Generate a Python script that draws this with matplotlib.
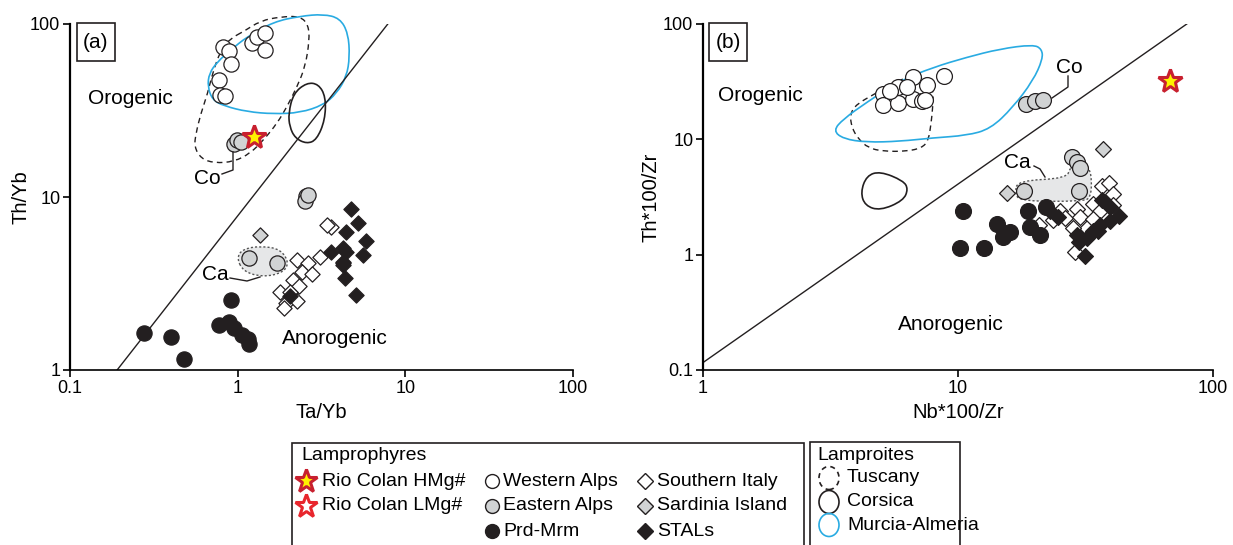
import numpy as np
import matplotlib.pyplot as plt
from matplotlib.path import Path
from matplotlib.patches import PathPatch, Rectangle, Ellipse
from matplotlib.lines import Line2D

plt.rcParams['font.family'] = ['Liberation Sans', 'DejaVu Sans']

W, H = 1233, 545

# ---------------- panel (a): Th/Yb vs Ta/Yb ----------------
a_west_x = [0.823, 0.888, 0.918, 0.772, 0.786, 0.838, 1.222, 1.308, 1.465, 1.465]
a_west_y = [73.9, 70.1, 58.7, 47.5, 38.9, 38.5, 78.0, 84.5, 88.4, 70.8]
a_east_x = [0.951, 0.996, 1.042, 2.56, 2.53, 2.64, 1.166, 1.717]
a_east_y = [20.3, 21.4, 20.9, 10.1, 9.52, 10.3, 4.42, 4.14]
a_prd_x = [0.277, 0.401, 0.477, 0.918, 0.775, 0.888, 0.951, 1.066, 1.151, 1.166]
a_prd_y = [1.63, 1.56, 1.16, 2.54, 1.82, 1.90, 1.74, 1.59, 1.52, 1.41]
a_sital_x = [3.58, 3.40, 2.26, 2.64, 3.10, 2.41, 2.79, 2.15, 2.31, 1.80, 2.06, 1.94, 2.26, 1.90, 4.22]
a_sital_y = [6.73, 6.89, 4.32, 4.14, 4.52, 3.70, 3.57, 3.31, 3.06, 2.84, 2.84, 2.43, 2.52, 2.29, 4.14]
a_sard_x = [1.35]
a_sard_y = [6.03]
a_stal_x = [4.77, 5.22, 4.42, 5.85, 3.58, 4.22, 4.42, 5.59, 4.22, 4.26, 4.36, 5.06, 2.06]
a_stal_y = [8.49, 7.10, 6.30, 5.59, 4.83, 5.05, 4.83, 4.62, 4.23, 4.05, 3.39, 2.71, 2.68]
a_star_x, a_star_y = [1.26], [22.3]
a_line_x, a_line_y = [0.191, 7.86], [1, 100]

a_tus_x = [1.08, 1.37, 1.80, 2.36, 2.64, 2.68, 2.53, 2.26, 1.97, 1.72, 1.43, 1.19, 0.951,
           0.724, 0.604, 0.551, 0.564, 0.604, 0.662, 0.708, 0.793, 0.909]
a_tus_y = [90.2, 104.5, 110, 111, 98.7, 80.8, 56.7, 43.4, 33.3, 26.7, 21.4, 17.9, 16.0,
           15.7, 16.7, 19.5, 23.4, 30.5, 39.7, 51.9, 70.8, 82.7]
a_mur_x = [1.14, 1.64, 2.36, 3.24, 4.07, 4.56, 4.66, 4.46, 3.89, 3.24, 2.36, 1.64, 1.14,
           0.830, 0.708, 0.662, 0.676, 0.758, 0.909]
a_mur_y = [84.5, 103, 111, 114, 108, 88.4, 64.7, 49.6, 39.7, 34.0, 30.7, 30.2, 31.1,
           33.6, 36.4, 43.4, 51.9, 60.5, 70.8]
a_cor_x = [2.01, 2.15, 2.58, 3.03, 3.35, 3.32, 2.96, 2.58, 2.20, 2.04]
a_cor_y = [30.5, 39.7, 45.8, 45.0, 38.0, 27.9, 21.4, 20.3, 21.9, 25.5]
a_ca_x = [0.986, 1.07, 1.37, 1.80, 2.03, 1.85, 1.42, 1.085]
a_ca_y = [4.44, 5.00, 5.21, 5.00, 4.15, 3.64, 3.45, 3.69]

# ---------------- panel (b): Th*100/Zr vs Nb*100/Zr ----------------
b_west_x = [5.07, 5.07, 5.83, 5.83, 6.68, 6.68, 7.21, 7.54, 8.81, 5.41, 6.29, 7.42]
b_west_y = [24.8, 20.0, 28.3, 20.5, 34.5, 22.4, 21.7, 29.8, 35.7, 26.5, 28.3, 22.0]
b_east_x = [18.5, 20.0, 21.6, 27.9, 29.2, 30.1, 18.2, 29.9]
b_east_y = [20.3, 21.4, 22.1, 6.98, 6.32, 5.65, 3.59, 3.59]
b_prd_x = [10.5, 10.2, 12.6, 14.2, 16.0, 15.0, 18.9, 22.1, 19.2, 21.0]
b_prd_y = [2.37, 1.14, 1.14, 1.85, 1.56, 1.43, 2.37, 2.61, 1.73, 1.49]
b_sital_x = [36.6, 39.2, 40.6, 33.9, 29.2, 25.1, 26.3, 30.1, 23.6, 20.8, 36.0, 32.0, 28.3, 28.8, 33.9, 40.6]
b_sital_y = [3.97, 4.15, 3.36, 2.75, 2.49, 2.41, 2.08, 2.14, 2.00, 1.82, 2.41, 1.70, 1.70, 1.05, 2.04, 2.72]
b_sard_x = [37.1, 15.5]
b_sard_y = [8.26, 3.40]
b_stal_x = [36.6, 39.5, 42.9, 39.5, 36.0, 33.9, 32.0, 29.9, 31.5, 24.7, 22.9, 29.2, 35.5]
b_stal_y = [3.00, 2.57, 2.18, 1.97, 1.82, 1.61, 1.40, 1.30, 0.967, 2.14, 2.37, 1.49, 1.59]
b_star_x, b_star_y = [67.8], [32.3]
b_line_x, b_line_y = [1, 78.9], [0.116, 100]

b_tus_x = [4.73, 4.01, 3.77, 3.83, 4.06, 4.45, 5.09, 6.29, 7.21, 7.65, 7.84, 7.96, 8.00, 7.77, 6.68, 5.58]
b_tus_y = [24.8, 20.3, 16.6, 12.7, 10.1, 8.42, 7.87, 7.87, 8.42, 9.74, 13.6, 18.9, 26.4, 32.3, 35.7, 31.2]
b_mur_x = [3.24, 3.55, 4.38, 5.92, 8.00, 10.8, 14.6, 19.7, 21.3, 21.5, 19.7, 16.4, 13.4, 10.8,
           8.00, 5.92, 4.38, 3.55]
b_mur_y = [11.9, 15.0, 20.9, 32.3, 42.1, 51.4, 60.8, 66.3, 60.8, 49.8, 32.3, 18.9, 12.3, 10.8,
           10.3, 9.61, 9.42, 10.1]
b_cor_x = [4.38, 4.95, 6.10, 6.38, 6.10, 4.95, 4.32, 4.15]
b_cor_y = [4.84, 5.28, 4.38, 3.71, 2.94, 2.41, 2.66, 3.47]
b_ca_x = [17.2, 26.7, 27.5, 30.1, 32.7, 33.5, 33.1, 31.0, 17.5, 16.7]
b_ca_y = [4.38, 4.59, 5.72, 6.32, 5.72, 4.38, 3.14, 2.90, 2.90, 3.47]

GREY = '#d1d3d4'
BLACK = '#231f20'
BLUE = '#29abe2'
RED = '#c8202f'
YELLOW = '#fff200'


def fx(px):
    return px / W


def fy(py):
    return 1 - py / H


def closed_curve(xs, ys):
    # smooth closed outline: quadratic beziers through the midpoints (log space)
    lx, ly = np.log10(xs), np.log10(ys)
    mx = (lx + np.roll(lx, -1)) / 2
    my = (ly + np.roll(ly, -1)) / 2
    verts = [(mx[-1], my[-1])]
    codes = [Path.MOVETO]
    for i in range(len(lx)):
        verts += [(lx[i], ly[i]), (mx[i], my[i])]
        codes += [Path.CURVE3, Path.CURVE3]
    return Path(10 ** np.array(verts), codes)


def field(ax, xs, ys, **kw):
    ax.add_patch(PathPatch(closed_curve(xs, ys), clip_on=False, **kw))


def points(ax, d, s_c, s_d):
    kw = dict(edgecolors=BLACK, linewidths=0.9, zorder=3, clip_on=False)
    ax.scatter(d['sital'][0], d['sital'][1], s=s_d, marker='D', c='white', **kw)
    ax.scatter(d['stal'][0], d['stal'][1], s=s_d, marker='D', c=BLACK, **kw)
    ax.scatter(d['sard'][0], d['sard'][1], s=s_d, marker='D', c=GREY, **kw)
    ax.scatter(d['prd'][0], d['prd'][1], s=s_c, marker='o', c=BLACK, **kw)
    ax.scatter(d['west'][0], d['west'][1], s=s_c, marker='o', c='white', **kw)
    ax.scatter(d['east'][0], d['east'][1], s=s_c, marker='o', c=GREY, **kw)
    ax.plot(d['star'][0], d['star'][1], ls='none', marker='*', ms=18, mfc=YELLOW,
            mec=RED, mew=2.2, zorder=5, clip_on=False)


def style_axes(ax, xt, yt, xlabel, ylabel, xlab_x, ylab_x):
    ax.set_xscale('log')
    ax.set_yscale('log')
    ax.set_xlim(xt[0], xt[-1])
    ax.set_ylim(yt[0], yt[-1])
    ax.set_xticks(xt, labels=[f'{v:g}' for v in xt])
    ax.set_yticks(yt, labels=[f'{v:g}' for v in yt])
    ax.minorticks_off()
    ax.spines[['top', 'right']].set_visible(False)
    ax.spines['left'].set_linewidth(1.6)
    ax.spines['bottom'].set_linewidth(1.2)
    ax.tick_params(direction='out', length=5, width=1.2, labelsize=13, pad=2)
    ax.set_xlabel(xlabel, fontsize=14.5)
    ax.set_ylabel(ylabel, fontsize=14.5)
    ax.xaxis.set_label_coords(xlab_x, -0.095)
    ax.yaxis.set_label_coords(ylab_x, 0.5)


def ftext(px, py, s, size=15, **kw):
    fig.text(fx(px), fy(py), s, fontsize=size, ha=kw.pop('ha', 'center'),
             va=kw.pop('va', 'center'), **kw)


def fline(pts, **kw):
    xs = [fx(p[0]) for p in pts]
    ys = [fy(p[1]) for p in pts]
    fig.add_artist(Line2D(xs, ys, transform=fig.transFigure, color=BLACK,
                          lw=kw.pop('lw', 1.0), **kw))


def fbox(x0, y0, x1, y1, lw=1.2):
    fig.add_artist(Rectangle((fx(x0), fy(y1)), fx(x1) - fx(x0), fy(y0) - fy(y1),
                             transform=fig.transFigure, fill=False, ec=BLACK, lw=lw))


fig = plt.figure(figsize=(W / 100, H / 100), dpi=100)
ax_a = fig.add_axes([fx(70), fy(370), fx(573) - fx(70), fy(24) - fy(370)])
ax_b = fig.add_axes([fx(703), fy(370), fx(1213) - fx(703), fy(24) - fy(370)])

# panel (a)
ax_a.plot(a_line_x, a_line_y, color=BLACK, lw=1.0, zorder=2)
field(ax_a, a_ca_x, a_ca_y, fc='#e6e7e8', ec='#555555', lw=1.0, ls=(0, (1.5, 1.5)), zorder=1)
field(ax_a, a_tus_x, a_tus_y, fill=False, ec=BLACK, lw=1.0, ls=(0, (4, 3)), zorder=1)
field(ax_a, a_mur_x, a_mur_y, fill=False, ec=BLUE, lw=1.2, zorder=1)
field(ax_a, a_cor_x, a_cor_y, fill=False, ec=BLACK, lw=1.2, zorder=1)
points(ax_a, {'west': (a_west_x, a_west_y), 'east': (a_east_x, a_east_y),
              'prd': (a_prd_x, a_prd_y), 'sital': (a_sital_x, a_sital_y),
              'sard': (a_sard_x, a_sard_y), 'stal': (a_stal_x, a_stal_y),
              'star': (a_star_x, a_star_y)}, s_c=120, s_d=60)
style_axes(ax_a, [0.1, 1, 10, 100], [1, 10, 100], 'Ta/Yb', 'Th/Yb', 0.5, -0.079)

# panel (b)
ax_b.plot(b_line_x, b_line_y, color=BLACK, lw=1.0, zorder=2)
field(ax_b, b_ca_x, b_ca_y, fc='#e6e7e8', ec='#555555', lw=1.0, ls=(0, (1.5, 1.5)), zorder=1)
field(ax_b, b_tus_x, b_tus_y, fill=False, ec=BLACK, lw=1.0, ls=(0, (4, 3)), zorder=1)
field(ax_b, b_mur_x, b_mur_y, fill=False, ec=BLUE, lw=1.2, zorder=1)
field(ax_b, b_cor_x, b_cor_y, fill=False, ec=BLACK, lw=1.2, zorder=1)
points(ax_b, {'west': (b_west_x, b_west_y), 'east': (b_east_x, b_east_y),
              'prd': (b_prd_x, b_prd_y), 'sital': (b_sital_x, b_sital_y),
              'sard': (b_sard_x, b_sard_y), 'stal': (b_stal_x, b_stal_y),
              'star': (b_star_x, b_star_y)}, s_c=130, s_d=65)
style_axes(ax_b, [1, 10, 100], [0.1, 1, 10, 100], 'Nb*100/Zr', 'Th*100/Zr', 0.5, -0.084)

# panel labels and field names
fbox(77, 23, 115, 61)
ftext(96, 42, '(a)')
fbox(709, 23, 747, 61)
ftext(728, 42, '(b)')
ftext(130, 98, 'Orogenic')
ftext(335, 338, 'Anorogenic')
ftext(760, 95, 'Orogenic')
ftext(951, 325, 'Anorogenic')
ftext(207, 178, 'Co')
fline([(233, 152), (233, 170), (222, 174)])
ftext(215, 275, 'Ca')
fline([(230, 278), (247, 281), (260, 277)])
ftext(1069, 67, 'Co')
fline([(1052, 98), (1068, 87), (1068, 76)])
ftext(1017, 162, 'Ca')
fline([(1034, 166), (1040, 169), (1045, 177)])

# legend: lamprophyres
fbox(292, 443, 804, 600)
ftext(301, 456, 'Lamprophyres', size=14, ha='left')
leg_rows = [481, 506, 531]


def fmark(px, py, **kw):
    fig.add_artist(Line2D([fx(px)], [fy(py)], transform=fig.transFigure, ls='none', **kw))


fmark(306, 481, marker='*', ms=17, mfc=YELLOW, mec=RED, mew=2.2)
fmark(306, 506, marker='*', ms=17, mfc='white', mec='#e8262d', mew=2.2)
ftext(322, 481, 'Rio Colan HMg#', size=14, ha='left')
ftext(322, 506, 'Rio Colan LMg#', size=14, ha='left')
for py, fc, name in zip(leg_rows, ['white', GREY, BLACK], ['Western Alps', 'Eastern Alps', 'Prd-Mrm']):
    fmark(492, py, marker='o', ms=10, mfc=fc, mec=BLACK, mew=1.0)
    ftext(503, py, name, size=14, ha='left')
for py, fc, name in zip(leg_rows, ['white', GREY, BLACK], ['Southern Italy', 'Sardinia Island', 'STALs']):
    fmark(645, py, marker='D', ms=8, mfc=fc, mec=BLACK, mew=1.0)
    ftext(657, py, name, size=14, ha='left')

# legend: lamproites
fbox(810, 442, 960, 600)
ftext(817, 455, 'Lamproites', size=14, ha='left')
for py, ec, ls, name in zip([478, 502, 525], [BLACK, BLACK, BLUE], [(0, (3, 2.5)), '-', '-'],
                            ['Tuscany', 'Corsica', 'Murcia-Almeria']):
    fig.add_artist(Ellipse((fx(829), fy(py)), 20 / W, 23 / H, transform=fig.transFigure,
                           fill=False, ec=ec, ls=ls, lw=1.2))
    ftext(847, py, name, size=14, ha='left')

fig.savefig('out.png', dpi=100)
